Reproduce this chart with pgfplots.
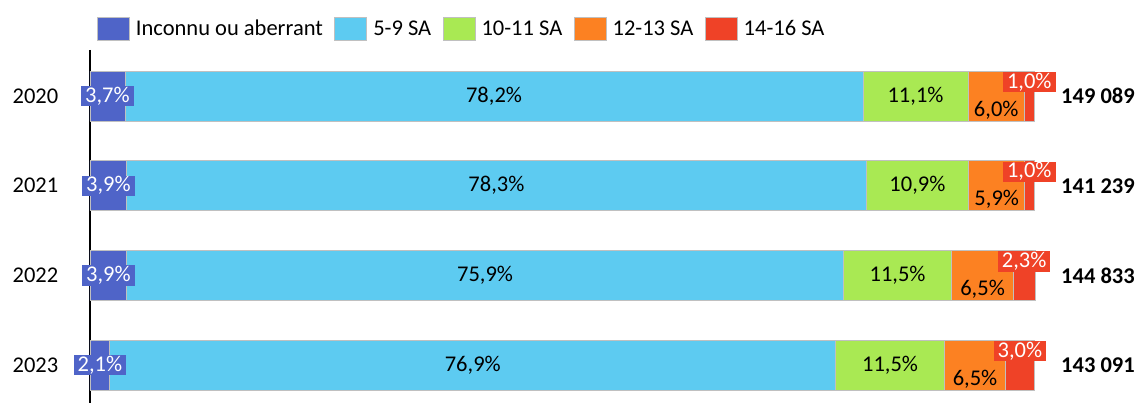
\documentclass[border=0pt]{standalone}
\usepackage{fontspec}
\setmainfont{Carlito}
\usepackage{pgfplots}
\pgfplotsset{compat=1.18}
\usepackage{pgfplotstable}
\definecolor{cUnk}{HTML}{4F64C8}
\definecolor{cA}{HTML}{5DCBF1}
\definecolor{cB}{HTML}{A9E953}
\definecolor{cC}{HTML}{FC8122}
\definecolor{cD}{HTML}{EF4227}
\definecolor{cEdge}{HTML}{C0C0C0}
\newcommand\fs{\fontsize{22.5}{25}\selectfont}
\pgfplotstableread[col sep=comma]{
idx,unk,s59,s1011,s1213,s1416,full,total
0,3.7,78.2,11.1,6.0,1.0,100,149 089
1,3.9,78.3,10.9,5.9,1.0,100,141 239
2,3.9,75.9,11.5,6.5,2.3,100,144 833
3,2.1,76.9,11.5,6.5,3.0,100,143 091
}\data
\pgfplotsset{
  seglab/.style n args={4}{
    visualization depends on={\thisrow{#1}\as\rawx},
    nodes near coords={\pgfmathprintnumber[assume math mode=true,fixed,fixed zerofill,precision=1,use comma]{\rawx}\%},
    every node near coord/.style={anchor=center, yshift=#4,
      inner xsep=4pt, inner ysep=1pt, fill=#2, text=#3, font=\fs},
  },
  myaxis/.style={
    scale only axis,
    width=944pt, height=353pt,
    xmin=0, xmax=100,
    ymin=-0.513, ymax=3.422,
    y dir=reverse,
    clip=false,
    font=\fs,
  },
}
\begin{document}
\fs
\begin{tikzpicture}
\useasboundingbox (-90pt,0pt) rectangle (1047pt,403pt);
\begin{axis}[
  myaxis,
  xbar stacked,
  bar width=50pt,
  hide x axis,
  axis y line*=left,
  y axis line style={-, black, line width=1.2pt},
  ytick={0,1,2,3},
  yticklabels={2020,2021,2022,2023},
  ytick style={draw=none},
  major tick length=0pt,
  yticklabel style={anchor=east, xshift=-24pt},
  legend columns=-1,
  legend style={draw=none, fill=none, at={(0,1)}, anchor=south west, xshift=4pt, yshift=6.5pt,
    font=\fs,
    /tikz/every odd column/.append style={column sep=4pt},
    /tikz/every even column/.append style={column sep=9.5pt}},
  legend image code/.code={\draw[#1, draw=cEdge, line width=0.8pt] (0pt,-11.5pt) rectangle (32pt,11.5pt);},
]
\addplot[fill=cUnk, draw=cEdge, line width=0.8pt, seglab={unk}{cUnk}{white}{0pt}] table[x=unk,y=idx]{\data};
\addplot[fill=cA, draw=cEdge, line width=0.8pt, seglab={s59}{none}{black}{0pt}] table[x=s59,y=idx]{\data};
\addplot[fill=cB, draw=cEdge, line width=0.8pt, seglab={s1011}{none}{black}{0pt}] table[x=s1011,y=idx]{\data};
\addplot[fill=cC, draw=cEdge, line width=0.8pt, seglab={s1213}{cC}{black}{-14pt}] table[x=s1213,y=idx]{\data};
\addplot[fill=cD, draw=cEdge, line width=0.8pt, seglab={s1416}{cD}{white}{14pt}] table[x=s1416,y=idx]{\data};
\legend{Inconnu ou aberrant, 5-9 SA, 10-11 SA, 12-13 SA, 14-16 SA}
\end{axis}
\begin{axis}[myaxis, hide axis]
\addplot[draw=none, mark=none, point meta=explicit symbolic, nodes near coords,
  every node near coord/.style={anchor=west, xshift=27pt, inner sep=0pt, font=\fs\bfseries, text=black}]
  table[x=full,y=idx,meta=total]{\data};
\end{axis}
\end{tikzpicture}
\end{document}
